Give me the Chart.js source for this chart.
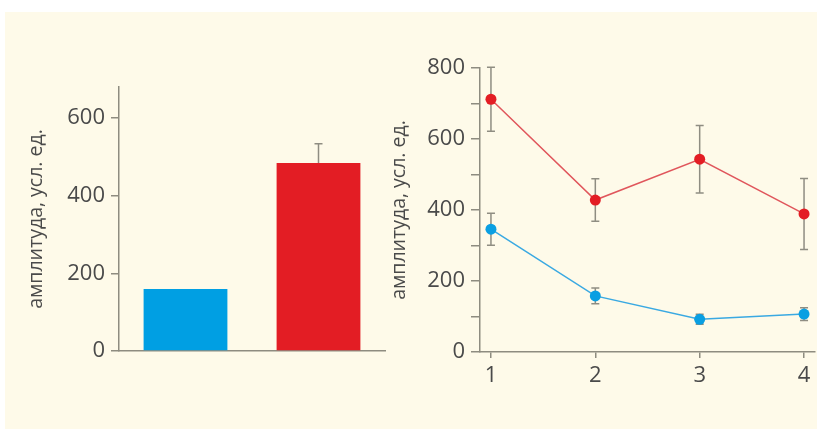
<!DOCTYPE html>
<html>
<head>
<meta charset="utf-8">
<script src="https://cdn.jsdelivr.net/npm/chart.js@4"></script>
<style>
  html, body { margin: 0; padding: 0; background: #ffffff; }
  body { width: 817px; height: 430px; position: relative; overflow: hidden; }
  #panel { position: absolute; left: 5px; top: 12px; width: 812px; height: 417px; background: #fefae9; }
  canvas { position: absolute; top: 0; }
  #barCanvas { left: 0; }
  #lineCanvas { left: 360px; }
</style>
</head>
<body>
<div id="panel"></div>
<canvas id="barCanvas" width="400" height="430"></canvas>
<canvas id="lineCanvas" width="457" height="430"></canvas>
<script>
// --- data: left panel (bars) ---
var barLabels = ['', '']
var barValues = [160, 484]
var barErrors = [0, 50]
var barColors = ['#009fe3', '#e31d24']

// --- data: right panel (lines) ---
var sessions = [1, 2, 3, 4]
var redValues = [712, 428, 543, 389]
var redErrors = [90, 60, 95, 100]
var blueValues = [346, 158, 92, 107]
var blueErrors = [45, 22, 14, 18]

var yTitle = 'амплитуда, усл. ед.'
var axisColor = '#8e8c80'
var textColor = '#4a4a4a'
var fontFamily = '"Open Sans", "Noto Sans", sans-serif'

// error bars drawn from the dataset's own errors array through the y scale
var errorBarPlugin = {
    id: 'errorBars',
    beforeDatasetsDraw(chart) {
        var ctx = chart.ctx
        var yScale = chart.scales.y
        chart.data.datasets.forEach((ds, di) => {
            if (!ds.errors) return
            var meta = chart.getDatasetMeta(di)
            meta.data.forEach((el, i) => {
                var err = ds.errors[i]
                if (!err) return
                var v = ds.data[i].y !== undefined ? ds.data[i].y : ds.data[i]
                var x = el.x
                var yTop = yScale.getPixelForValue(v + err)
                var yBot = ds.upOnly ? yScale.getPixelForValue(v) : yScale.getPixelForValue(v - err)
                ctx.save()
                ctx.strokeStyle = '#8f8d82'
                ctx.lineWidth = 1.5
                ctx.beginPath()
                ctx.moveTo(x, yTop); ctx.lineTo(x, yBot)
                ctx.moveTo(x - 4, yTop); ctx.lineTo(x + 4, yTop)
                if (!ds.upOnly) { ctx.moveTo(x - 4, yBot); ctx.lineTo(x + 4, yBot) }
                ctx.stroke()
                ctx.restore()
            })
        })
    }
}

// --- left chart ---
new Chart(document.getElementById('barCanvas'), {
    type: 'bar',
    data: {
        labels: barLabels,
        datasets: [{
            data: barValues,
            errors: barErrors,
            upOnly: true,
            backgroundColor: barColors,
            borderWidth: 0,
            barPercentage: 0.63,
            categoryPercentage: 1
        }]
    },
    options: {
        responsive: false,
        animation: false,
        layout: { autoPadding: false, padding: { top: 87, right: 15, left: 0, bottom: 0 } },
        plugins: { legend: { display: false }, tooltip: { enabled: false } },
        scales: {
            x: {
                grid: { display: false },
                border: { display: true, color: axisColor, width: 1.5 },
                ticks: { display: false },
                afterFit: s => { s.height = 79 }
            },
            y: {
                min: 0,
                max: 680,
                afterBuildTicks: s => { s.ticks = [0, 200, 400, 600].map(v => ({ value: v })) },
                grid: { drawOnChartArea: false, drawTicks: true, tickLength: 8, color: axisColor, lineWidth: 1.5 },
                border: { display: true, color: axisColor, width: 1.5 },
                ticks: { color: textColor, padding: 6, font: { family: fontFamily, size: 22 } },
                title: { display: true, text: yTitle, color: textColor, padding: { top: 25, bottom: 0 }, font: { family: fontFamily, size: 19.5 } },
                afterFit: s => { s.width = 119 }
            }
        }
    },
    plugins: [errorBarPlugin]
})

// --- right chart ---
new Chart(document.getElementById('lineCanvas'), {
    type: 'line',
    data: {
        datasets: [{
            data: sessions.map((s, i) => ({ x: s, y: redValues[i] })),
            errors: redErrors,
            borderColor: '#e0565c',
            borderWidth: 1.5,
            pointBackgroundColor: '#e31d24',
            pointBorderWidth: 0,
            pointRadius: 5.5,
            clip: false
        }, {
            data: sessions.map((s, i) => ({ x: s, y: blueValues[i] })),
            errors: blueErrors,
            borderColor: '#3aa9e2',
            borderWidth: 1.5,
            pointBackgroundColor: '#0a9fe2',
            pointBorderWidth: 0,
            pointRadius: 5.5,
            clip: false
        }]
    },
    options: {
        responsive: false,
        animation: false,
        layout: { autoPadding: false, padding: { top: 68, right: 2, left: 0, bottom: 0 } },
        plugins: { legend: { display: false }, tooltip: { enabled: false } },
        scales: {
            x: {
                type: 'linear',
                min: 0.895,
                max: 4.105,
                afterBuildTicks: s => { s.ticks = sessions.map(v => ({ value: v })) },
                grid: { drawOnChartArea: false, drawTicks: true, tickLength: 6, color: axisColor, lineWidth: 1.5 },
                border: { display: true, color: axisColor, width: 1.5 },
                ticks: { color: textColor, padding: 5, font: { family: fontFamily, size: 22 } },
                afterFit: s => { s.height = 78; s.paddingRight = 0; s.paddingLeft = 0 }
            },
            y: {
                min: 0,
                max: 800,
                ticks: {
                    stepSize: 100,
                    color: textColor,
                    padding: 6,
                    font: { family: fontFamily, size: 22 },
                    callback: v => (v % 200 === 0 ? v : '')
                },
                grid: { drawOnChartArea: false, drawTicks: true, tickLength: 9, color: axisColor, lineWidth: 1.5 },
                border: { display: true, color: axisColor, width: 1.5 },
                title: { display: true, text: yTitle, color: textColor, padding: { top: 28, bottom: 0 }, font: { family: fontFamily, size: 19.5 } },
                afterFit: s => { s.width = 120; s.paddingTop = 0; s.paddingBottom = 0 }
            }
        }
    },
    plugins: [errorBarPlugin]
})
</script>
</body>
</html>
